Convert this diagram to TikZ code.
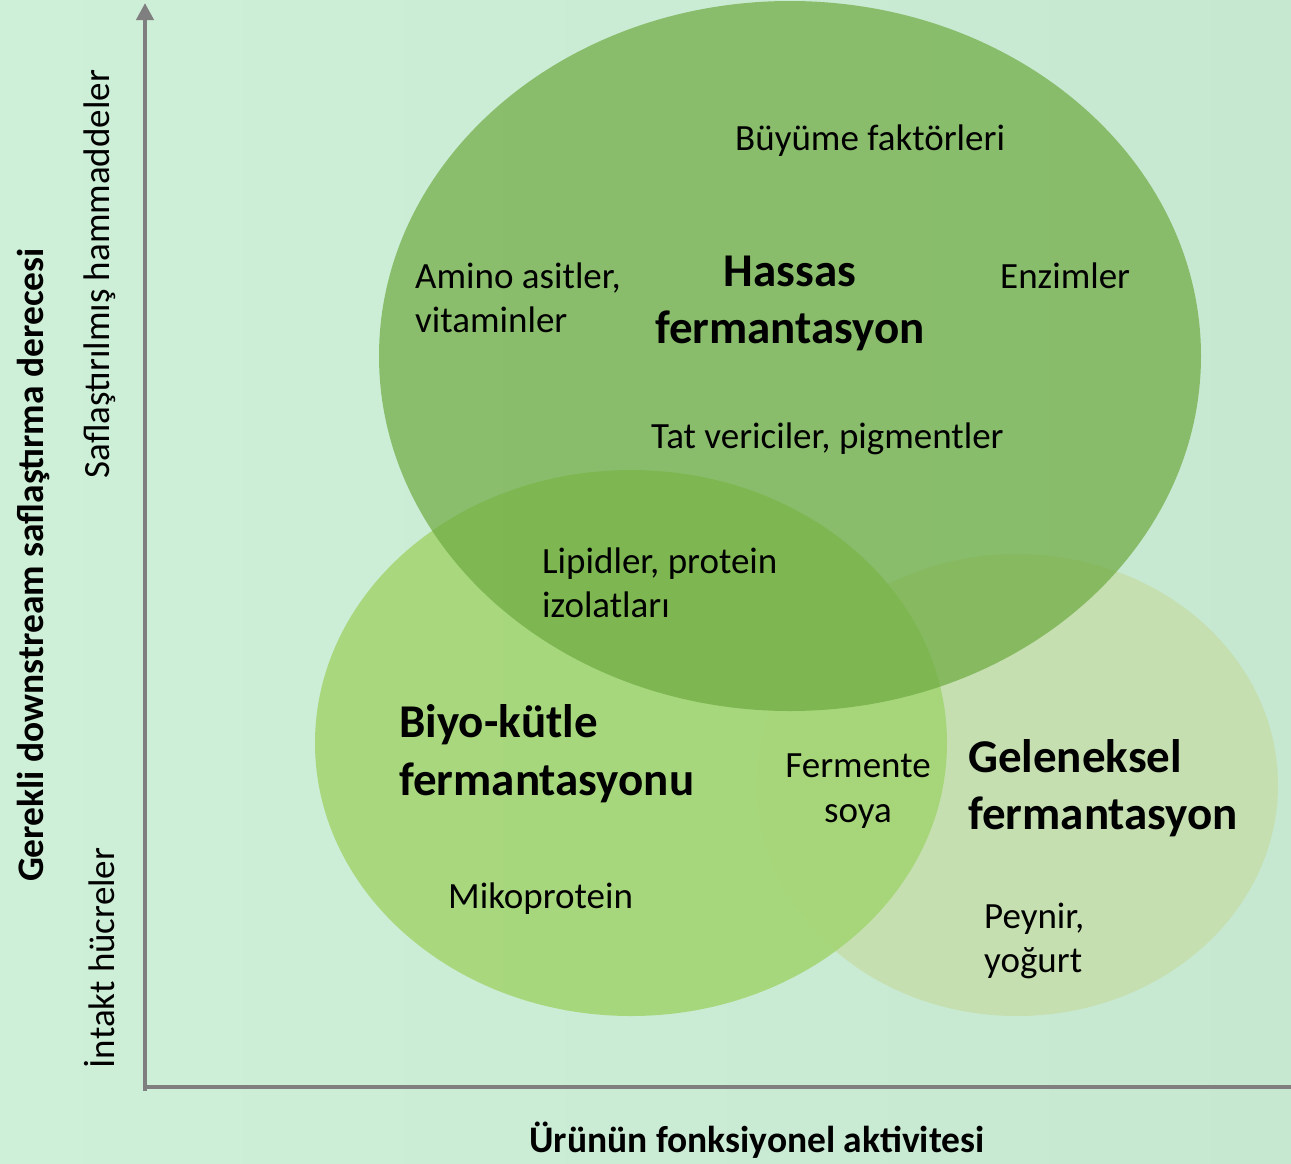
\documentclass[tikz,border=0pt]{standalone}
\usepackage{fontspec}
\setmainfont{Carlito}
\usetikzlibrary{arrows.meta}
\definecolor{bgL}{RGB}{207,240,216}
\definecolor{bgR}{RGB}{198,232,208}
\definecolor{hassasC}{RGB}{110,170,64}
\definecolor{bioC}{RGB}{165,214,118}
\definecolor{genC}{RGB}{197,223,176}
\definecolor{axisC}{RGB}{127,127,127}
\tikzset{
  lbl/.style={inner sep=0pt, font=\fontsize{37}{44}\selectfont},
  ttl/.style={inner sep=0pt, font=\fontsize{47}{56}\selectfont\bfseries},
  axl/.style={inner sep=0pt, font=\fontsize{37.5}{45}\selectfont\bfseries},
  axline/.style={line width=4pt, draw=axisC},
}
\begin{document}
\begin{tikzpicture}[x=1pt,y=-1pt]
\useasboundingbox (0,0) rectangle (1291,1163);
\shade[left color=bgL, right color=bgR] (0,0) rectangle (1291,1163);
% ellipses
\coordinate (cG) at (1017,785);
\coordinate (cB) at (631,743);
\coordinate (cH) at (790,356);
\fill[genC] (cG) ellipse [x radius=261pt, y radius=231pt];
\fill[bioC, opacity=0.92] (cB) ellipse [x radius=316pt, y radius=273pt];
\fill[hassasC, opacity=0.7] (cH) ellipse [x radius=411pt, y radius=355pt];
% axes
\coordinate (org) at (145,1087);
\coordinate (ytop) at (145,3);
\coordinate (xend) at (1291,1087);
\coordinate (ybot) at (145,1091);
\draw[axline, -{Triangle[width=17pt,length=17pt]}] (ybot) -- (ytop);
\draw[axline] ([xshift=-2pt]org) -- (xend);
% texts
\node[lbl, anchor=base west] (buy) at (735,150) {Büyüme faktörleri};
\node[lbl, anchor=base west] (ami1) at (415,288) {Amino asitler,};
\node[lbl, anchor=base west] (ami2) at (415,332) {vitaminler};
\node[ttl, anchor=base] (has1) at (790,286) {Hassas};
\node[ttl, anchor=base] (has2) at (790,343) {fermantasyon};
\node[lbl, anchor=base west] (enz) at (1000,288) {Enzimler};
\node[lbl, anchor=base west] (tat) at (651,448) {Tat vericiler, pigmentler};
\node[lbl, anchor=base west] (lip1) at (542,573) {Lipidler, protein};
\node[lbl, anchor=base west] (lip2) at (542,617) {izolatları};
\node[ttl, anchor=base west] (bio1) at (399,737) {Biyo-kütle};
\node[ttl, anchor=base west] (bio2) at (399,795) {fermantasyonu};
\node[lbl, anchor=base] (fer1) at (858,777) {Fermente};
\node[lbl, anchor=base] (fer2) at (858,822) {soya};
\node[ttl, anchor=base west] (gel1) at (968,772) {Geleneksel};
\node[ttl, anchor=base west] (gel2) at (968,829) {fermantasyon};
\node[lbl, anchor=base west] (mik) at (448,908) {Mikoprotein};
\node[lbl, anchor=base west] (pey1) at (984,928) {Peynir,};
\node[lbl, anchor=base west] (pey2) at (984,972) {yoğurt};
\node[axl, anchor=base] (xlab) at (757,1152) {Ürünün fonksiyonel aktivitesi};
\node[axl, rotate=90] (ylab) at (33,565) {Gerekli downstream saflaştırma derecesi};
\node[lbl, rotate=90] (yhi) at (100,274) {Saflaştırılmış hammaddeler};
\node[lbl, rotate=90] (ylo) at (100,958) {İntakt hücreler};
\end{tikzpicture}
\end{document}
